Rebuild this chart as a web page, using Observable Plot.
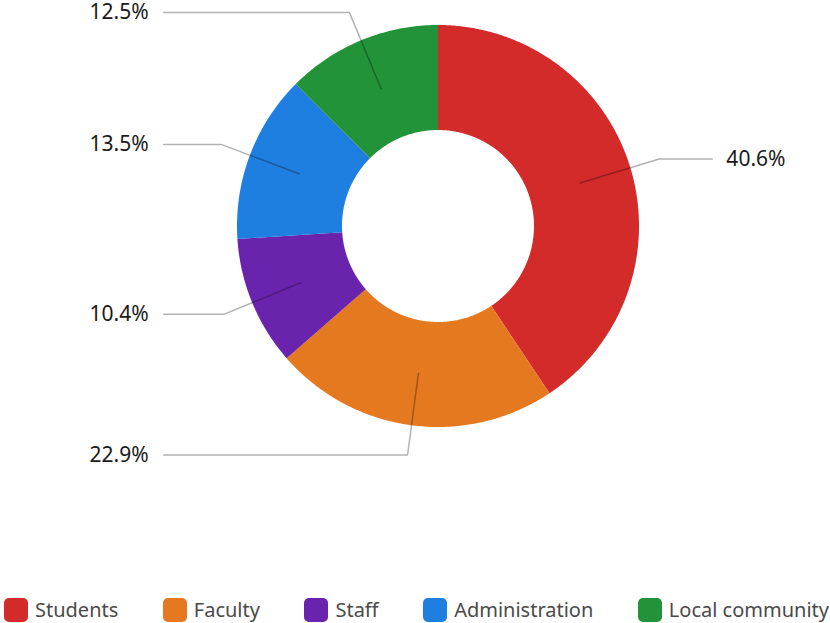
<!DOCTYPE html>
<html>
<head>
<meta charset="utf-8">
<script src="https://cdn.jsdelivr.net/npm/d3@7"></script>
<script src="https://cdn.jsdelivr.net/npm/@observablehq/plot@0.6"></script>
<style>
  html, body { margin: 0; padding: 0; background: #fff; }
  body { width: 830px; height: 623px; overflow: hidden; font-family: "Noto Sans", sans-serif; }
  #legend { display: flex; justify-content: space-between; align-items: center; height: 24px; margin-top: 8px; padding: 0 1px 0 4px; }
  .item { display: flex; align-items: center; font-size: 20px; color: #4a4a4a; line-height: 24px; }
  .sw { width: 24px; height: 24px; border-radius: 5px; margin-right: 7px; }
</style>
</head>
<body>
<div id="chart"></div>
<div id="legend"></div>
<script>
const categories = ["Students", "Faculty", "Staff", "Administration", "Local community"];
const shares = [40.6, 22.9, 10.4, 13.5, 12.5];
const colors = ["#d32a2a", "#e57920", "#6a23ad", "#1f7fe0", "#229339"];

// geometry (in units of outer radius)
const W = 830, H = 590, cx = 437.5, cy = 225.5, R = 201;
const inner = 96 / R;
const midR = (1 + inner) / 2;
const elbowR = 231 / R;
const lineEnd = 1.365;

const total = d3.sum(shares);
const slices = [];
const leaders = [];
const labels = [];
let acc = 0;
categories.forEach((cat, i) => {
  const a0 = acc / total * 2 * Math.PI;
  acc += shares[i];
  const a1 = acc / total * 2 * Math.PI;
  const n = Math.max(2, Math.ceil((a1 - a0) / (Math.PI / 360)));
  const pts = [];
  for (let k = 0; k <= n; k++) {
    const a = a0 + (a1 - a0) * k / n;
    pts.push({cat, x: Math.sin(a), y: Math.cos(a)});
  }
  for (let k = n; k >= 0; k--) {
    const a = a0 + (a1 - a0) * k / n;
    pts.push({cat, x: inner * Math.sin(a), y: inner * Math.cos(a)});
  }
  pts.push(pts[0]);
  slices.push(...pts);
  const am = (a0 + a1) / 2;
  const side = Math.sin(am) >= 0 ? 1 : -1;
  const ex = elbowR * Math.sin(am), ey = elbowR * Math.cos(am);
  leaders.push({cat, x: midR * Math.sin(am), y: midR * Math.cos(am)});
  leaders.push({cat, x: ex, y: ey});
  leaders.push({cat, x: side * lineEnd, y: ey});
  labels.push({cat, side, x: side * lineEnd, y: ey, text: shares[i].toFixed(1) + "%"});
});

const chart = Plot.plot({
  width: W, height: H, margin: 0,
  style: {fontFamily: "Noto Sans", background: "#fff"},
  x: {domain: [-cx / R, (W - cx) / R], range: [0, W], axis: null},
  y: {domain: [-(H - cy) / R, cy / R], range: [H, 0], axis: null},
  color: {domain: categories, range: colors},
  marks: [
    Plot.line(slices, {x: "x", y: "y", z: "cat", fill: "cat", stroke: "none", curve: "linear"}),
    Plot.line(leaders, {x: "x", y: "y", z: "cat", stroke: "#000", strokeOpacity: 0.3, strokeWidth: 1.5}),
    Plot.text(labels.filter(d => d.side > 0), {x: "x", y: "y", text: "text", textAnchor: "start", dx: 14, fontSize: 21, fill: "#1a1a1a"}),
    Plot.text(labels.filter(d => d.side < 0), {x: "x", y: "y", text: "text", textAnchor: "end", dx: -15, fontSize: 21, fill: "#1a1a1a"})
  ]
});
document.getElementById("chart").appendChild(chart);

const legend = document.getElementById("legend");
categories.forEach((c, i) => {
  const it = document.createElement("div");
  it.className = "item";
  const sw = document.createElement("span");
  sw.className = "sw";
  sw.style.background = colors[i];
  const t = document.createElement("span");
  t.textContent = c;
  it.appendChild(sw); it.appendChild(t);
  legend.appendChild(it);
});
</script>
</body>
</html>
